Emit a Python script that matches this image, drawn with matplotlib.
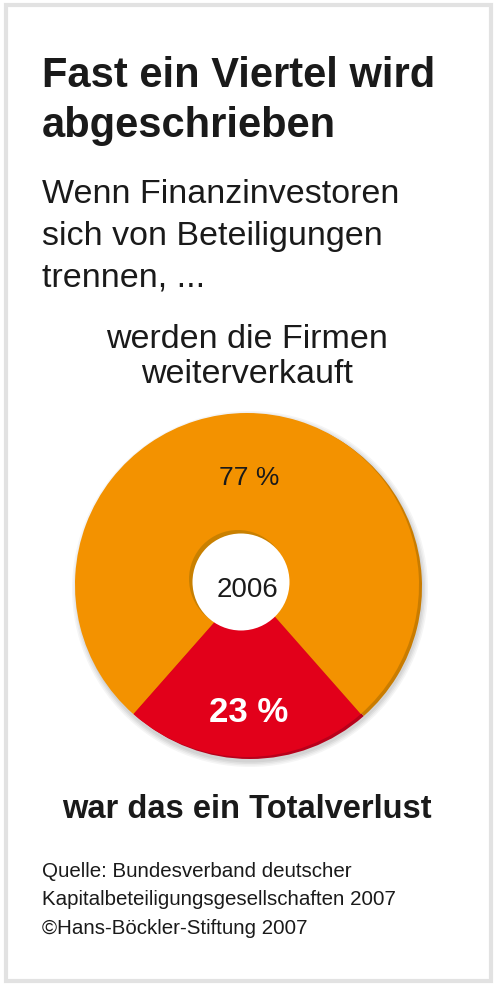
import matplotlib
matplotlib.use("Agg")
import matplotlib.pyplot as plt
from matplotlib.patches import Rectangle, Circle

# Daten
anteile = [23, 77]
labels = ["23 %", "77 %"]
farben = ["#e2001a", "#f39200"]
jahr = "2006"

W, H = 496, 987
plt.rcParams["font.family"] = ["Liberation Sans", "DejaVu Sans"]

fig = plt.figure(figsize=(W / 100, H / 100), dpi=100)
ax = fig.add_axes([0, 0, 1, 1])
ax.set_xlim(0, W)
ax.set_ylim(0, H)
ax.axis("off")


def Y(y):
    # Pixel von oben -> Datenkoordinate
    return H - y


# Rahmen
ax.add_patch(Rectangle((5.5, Y(982)), 485, 976, fill=False,
                       edgecolor="#e2e2e2", linewidth=3))

# Ring-Geometrie
cx, cy, R = 247, Y(586), 172
start = 270 - anteile[0] * 360 / 100 / 2

# weicher Schatten
for i, a in enumerate([0.04, 0.04, 0.05, 0.05]):
    ax.add_patch(Circle((cx + 3, cy - 4), R + 6 - i * 1.5, color="#000000",
                        alpha=a, linewidth=0, zorder=1))
# dunkle Kante rechts unten
dunkel, _ = ax.pie(anteile, colors=["#b8001a", "#c97c00"], startangle=start,
                   center=(cx + 3, cy - 2), radius=R,
                   wedgeprops=dict(linewidth=0))
for w in dunkel:
    w.set_zorder(2)

wedges, _ = ax.pie(anteile, colors=farben, startangle=start,
                   center=(cx, cy), radius=R,
                   wedgeprops=dict(linewidth=0))
for w in wedges:
    w.set_zorder(3)

# Loch mit Innenwand
hx, hy = 241, Y(583)
ax.add_patch(Circle((hx - 3, hy + 3), 49, color="#c98000", linewidth=0, zorder=4))
ax.add_patch(Circle((hx, hy), 48.5, color="white", linewidth=0, zorder=5))

ax.set_xlim(0, W)
ax.set_ylim(0, H)
ax.set_aspect("auto")

# Beschriftungen im Ring
ax.text(249, Y(485), labels[1], fontsize=19, color="#1a1a1a",
        ha="center", va="baseline", zorder=6)
ax.text(248, Y(597), jahr, fontsize=20, color="#1a1a1a",
        ha="center", va="baseline", zorder=6)
ax.text(249, Y(722), labels[0], fontsize=25, color="white", fontweight="bold",
        ha="center", va="baseline", zorder=6)

# Titel
ax.text(42, Y(87), "Fast ein Viertel wird", fontsize=30, fontweight="bold",
        color="#1a1a1a", va="baseline")
ax.text(42, Y(137), "abgeschrieben", fontsize=30, fontweight="bold",
        color="#1a1a1a", va="baseline")

# Untertitel
for i, z in enumerate(["Wenn Finanzinvestoren", "sich von Beteiligungen",
                       "trennen, ..."]):
    ax.text(42, Y(203 + i * 42), z, fontsize=24.5, color="#1a1a1a", va="baseline")

ax.text(247, Y(348), "werden die Firmen", fontsize=24.5, color="#1a1a1a",
        ha="center", va="baseline")
ax.text(247, Y(383), "weiterverkauft", fontsize=24.5, color="#1a1a1a",
        ha="center", va="baseline")

ax.text(247, Y(818), "war das ein Totalverlust", fontsize=23.5, fontweight="bold",
        color="#1a1a1a", ha="center", va="baseline")

# Quelle
for i, z in enumerate(["Quelle: Bundesverband deutscher",
                       "Kapitalbeteiligungsgesellschaften 2007",
                       "\u00a9Hans-B\u00f6ckler-Stiftung 2007"]):
    ax.text(42, Y(877 + i * 28.5), z, fontsize=14.8, color="#1a1a1a",
            va="baseline")

fig.savefig("out.png", dpi=100, facecolor="white")
